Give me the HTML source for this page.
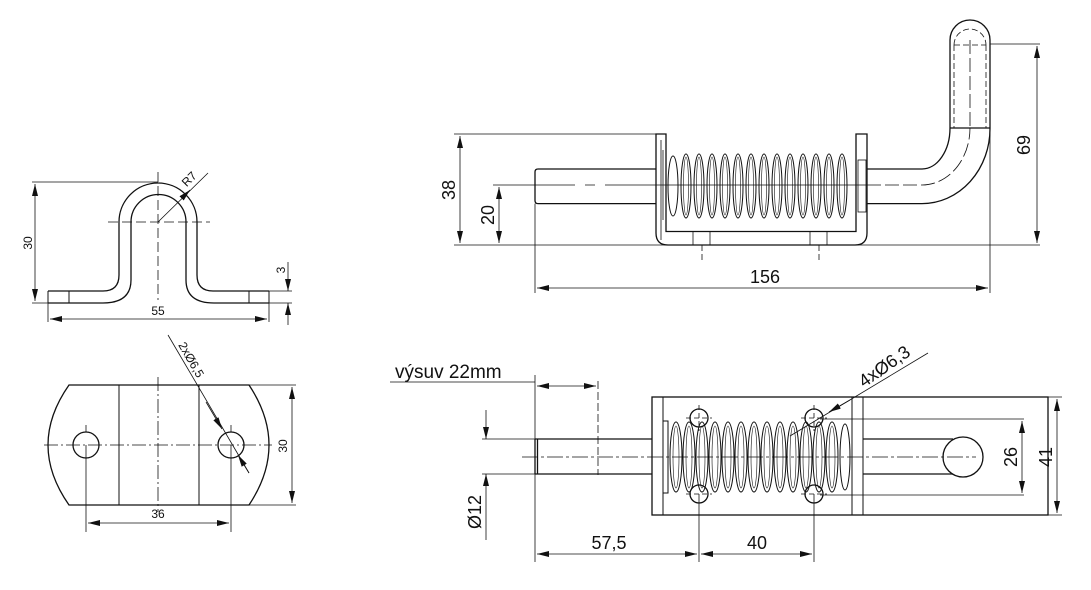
<!DOCTYPE html>
<html><head><meta charset="utf-8"><style>
html,body{margin:0;padding:0;background:#fff}
svg{display:block}
text{font-family:"Liberation Sans",sans-serif;fill:#111}
</style></head><body>
<svg width="1091" height="590" viewBox="0 0 1091 590" xmlns="http://www.w3.org/2000/svg">
<defs>
<marker id="a" viewBox="0 0 12 6" refX="12" refY="3" markerWidth="12" markerHeight="6" orient="auto-start-reverse" markerUnits="userSpaceOnUse"><path d="M0,0 L12,3 L0,6z" fill="#111"/></marker>
</defs>
<g fill="none" stroke="#111" stroke-width="1.3">
<!-- LEFT TOP VIEW -->
<path d="M48,291 L103,291 Q119,291 119,275 L119,222 A39 39 0 0 1 197,222 L197,275 Q197,291 213,291 L269,291"/>
<path d="M48,303 L103,303 Q131,303 131,280 L131,222 A27.5 27.5 0 0 1 186,222 L186,280 Q186,303 214,303 L269,303"/>
<path d="M48,291V303M269,291V303M69,291V303M249,291V303" stroke-width="1"/>
<g stroke-width="0.8">
<path d="M158,172V300M108,222H210" stroke-dasharray="10,4"/>
<path d="M158,222L208,173"/>
<path d="M183,197L190,190" marker-end="url(#a)"/>
<path d="M32,182H158M32,303H48M269,291H292M269,303H292M48,303V322M269,303V322"/>
<path d="M35,184V301" marker-start="url(#a)" marker-end="url(#a)"/>
<path d="M288,262V291" marker-end="url(#a)"/>
<path d="M288,325V303" marker-end="url(#a)"/>
<path d="M50,319H267" marker-start="url(#a)" marker-end="url(#a)"/>
</g>
<!-- LEFT BOTTOM VIEW -->
<path d="M69,385H249Q269,415 269,445Q269,475 249,505H69Q48,475 48,445Q48,415 69,385Z"/>
<path d="M119,385V505M199,385V505" stroke-width="1"/>
<circle cx="86" cy="445" r="13"/><circle cx="231" cy="445" r="13"/>
<g stroke-width="0.8">
<path d="M44,445H272M158,377V512" stroke-dasharray="14,3,2,3"/>
<path d="M86,425V432M231,425V432"/>
<path d="M249,385H296M249,505H296M86,445V532M231,445V532"/>
<path d="M292,387V503" marker-start="url(#a)" marker-end="url(#a)"/>
<path d="M88,523H229" marker-start="url(#a)" marker-end="url(#a)"/>
<path d="M168,335L249,473"/>
<path d="M206,402L222,429" marker-end="url(#a)"/>
<path d="M249,473L238,455" marker-end="url(#a)"/>
</g>

<!-- TOP RIGHT VIEW -->
<path d="M656,134V233Q656,245 668,245H855Q867,245 867,233V134H856V231.5H666V134Z"/>
<path d="M535,172Q535,169 538,169H656M535,172V200.6Q535,203.6 538,203.6H656"/>
<path d="M867,169H922A28 41 0 0 0 950,128V40A20 20 0 0 1 990,40V128A68 75 0 0 1 922,203.6H867"/>
<path d="M949.7,128H990"/>
<g stroke-width="0.8">
<path d="M954,45V128M986,45V128M954,45A16 16 0 0 1 986,45M954,45H986" stroke-dasharray="6,3"/>
<path d="M970,40V128" stroke-dasharray="14,4"/>
<path d="M867,185H922A48 57 0 0 0 970,128" stroke-dasharray="14,4"/>
<path d="M493,185H575M585,185H595M605,185H867" />
<path d="M661,140V240M663,150V220" />
<rect x="693" y="231.5" width="17" height="13.5"/><rect x="810" y="231.5" width="17" height="13.5"/>
<path d="M702,245V260M819,245V260" stroke-dasharray="6,3"/>
<rect x="858" y="160" width="8" height="52"/>
<path d="M454,245H1040M454,134H656M990,44H1040M535,203.6V293M990,128V293"/>
<path d="M460,136V243" marker-start="url(#a)" marker-end="url(#a)"/>
<path d="M499,187V243" marker-start="url(#a)" marker-end="url(#a)"/>
<path d="M1037,46V243" marker-start="url(#a)" marker-end="url(#a)"/>
<path d="M537,288H988" marker-start="url(#a)" marker-end="url(#a)"/>
</g>
<g stroke-width="1">
<ellipse cx="673" cy="186" rx="5" ry="30"/>
<ellipse cx="686" cy="186" rx="5" ry="32"/><ellipse cx="699" cy="186" rx="5" ry="32"/><ellipse cx="712" cy="186" rx="5" ry="32"/><ellipse cx="725" cy="186" rx="5" ry="32"/><ellipse cx="738" cy="186" rx="5" ry="32"/><ellipse cx="751" cy="186" rx="5" ry="32"/><ellipse cx="764" cy="186" rx="5" ry="32"/><ellipse cx="777" cy="186" rx="5" ry="32"/><ellipse cx="790" cy="186" rx="5" ry="32"/><ellipse cx="803" cy="186" rx="5" ry="32"/><ellipse cx="816" cy="186" rx="5" ry="32"/><ellipse cx="829" cy="186" rx="5" ry="32"/><ellipse cx="842" cy="186" rx="5" ry="32"/>
</g>
<g stroke-width="0.6">
<ellipse cx="686" cy="186" rx="2.5" ry="29"/><ellipse cx="699" cy="186" rx="2.5" ry="29"/><ellipse cx="712" cy="186" rx="2.5" ry="29"/><ellipse cx="725" cy="186" rx="2.5" ry="29"/><ellipse cx="738" cy="186" rx="2.5" ry="29"/><ellipse cx="751" cy="186" rx="2.5" ry="29"/><ellipse cx="764" cy="186" rx="2.5" ry="29"/><ellipse cx="777" cy="186" rx="2.5" ry="29"/><ellipse cx="790" cy="186" rx="2.5" ry="29"/><ellipse cx="803" cy="186" rx="2.5" ry="29"/><ellipse cx="816" cy="186" rx="2.5" ry="29"/><ellipse cx="829" cy="186" rx="2.5" ry="29"/><ellipse cx="842" cy="186" rx="2.5" ry="29"/>
</g>

<!-- BOTTOM RIGHT VIEW -->
<rect x="652" y="397" width="396" height="118"/>
<path d="M663,397V515M852,397V515M863,397V515" stroke-width="1"/>
<path d="M535,439H652M535,474H652M863,439H953M863,474H953M535,439V474M537.5,439V474"/>
<circle cx="963" cy="457" r="20"/>
<circle cx="699" cy="418" r="9"/><circle cx="814" cy="418" r="9"/><circle cx="699" cy="494" r="9"/><circle cx="814" cy="494" r="9"/>
<g stroke-width="0.8">
<path d="M522,457H976" stroke-dasharray="16,3,3,3"/>
<path d="M686,418H712M814,405V431M801,418H827M699,405V431M686,494H712M801,494H827" stroke-dasharray="5,3"/>
<path d="M598,381V475" stroke-dasharray="8,3"/>
<path d="M390,382H535M535,375V562M699,494V562M814,494V562M820,419H1024M820,495H1024M1048,397H1062M1048,515H1062M482,439H535M482,474H535"/>
<path d="M537,386H596" marker-start="url(#a)" marker-end="url(#a)"/>
<path d="M537,554H697" marker-start="url(#a)" marker-end="url(#a)"/>
<path d="M701,554H812" marker-start="url(#a)" marker-end="url(#a)"/>
<path d="M1022,421V493" marker-start="url(#a)" marker-end="url(#a)"/>
<path d="M1057,399V513" marker-start="url(#a)" marker-end="url(#a)"/>
<path d="M486,410V439" marker-end="url(#a)"/>
<path d="M486,540V474" marker-end="url(#a)"/>
<path d="M928,353L790,436"/>
<path d="M850,400L829,412" marker-end="url(#a)"/>
</g>
<g stroke-width="1">
<rect x="663" y="421" width="5" height="72"/>
<ellipse cx="676" cy="457" rx="6" ry="35"/><ellipse cx="689" cy="457" rx="6" ry="35"/><ellipse cx="702" cy="457" rx="6" ry="35"/><ellipse cx="715" cy="457" rx="6" ry="35"/><ellipse cx="728" cy="457" rx="6" ry="35"/><ellipse cx="741" cy="457" rx="6" ry="35"/><ellipse cx="754" cy="457" rx="6" ry="35"/><ellipse cx="767" cy="457" rx="6" ry="35"/><ellipse cx="780" cy="457" rx="6" ry="35"/><ellipse cx="793" cy="457" rx="6" ry="35"/><ellipse cx="806" cy="457" rx="6" ry="35"/><ellipse cx="819" cy="457" rx="6" ry="35"/><ellipse cx="832" cy="457" rx="6" ry="35"/><ellipse cx="845" cy="457" rx="5" ry="33"/>
</g>
<g stroke-width="0.6">
<ellipse cx="676" cy="457" rx="3" ry="31"/><ellipse cx="689" cy="457" rx="3" ry="31"/><ellipse cx="702" cy="457" rx="3" ry="31"/><ellipse cx="715" cy="457" rx="3" ry="31"/><ellipse cx="728" cy="457" rx="3" ry="31"/><ellipse cx="741" cy="457" rx="3" ry="31"/><ellipse cx="754" cy="457" rx="3" ry="31"/><ellipse cx="767" cy="457" rx="3" ry="31"/><ellipse cx="780" cy="457" rx="3" ry="31"/><ellipse cx="793" cy="457" rx="3" ry="31"/><ellipse cx="806" cy="457" rx="3" ry="31"/><ellipse cx="819" cy="457" rx="3" ry="31"/><ellipse cx="832" cy="457" rx="3" ry="31"/>
</g>
</g>

<!-- TEXT -->
<g font-size="12">
<text x="158" y="315" text-anchor="middle">55</text>
<text x="158" y="518" text-anchor="middle">36</text>
<text transform="translate(32,243) rotate(-90)" text-anchor="middle">30</text>
<text transform="translate(287,446) rotate(-90)" text-anchor="middle">30</text>
<text transform="translate(285,270) rotate(-90)" text-anchor="middle">3</text>
<text transform="translate(192,182) rotate(-45)" text-anchor="middle">R7</text>
<text transform="translate(178,345) rotate(60)">2xØ6,5</text>
</g>
<g font-size="18">
<text x="765" y="283" text-anchor="middle">156</text>
<text transform="translate(455,190) rotate(-90)" text-anchor="middle">38</text>
<text transform="translate(494,215) rotate(-90)" text-anchor="middle">20</text>
<text transform="translate(1030,145) rotate(-90)" text-anchor="middle">69</text>
<text x="395" y="378" font-size="19">výsuv 22mm</text>
<text x="609" y="549" text-anchor="middle">57,5</text>
<text x="757" y="549" text-anchor="middle">40</text>
<text transform="translate(1017,457) rotate(-90)" text-anchor="middle">26</text>
<text transform="translate(1052,457) rotate(-90)" text-anchor="middle">41</text>
<text transform="translate(481,512) rotate(-90)" text-anchor="middle">Ø12</text>
<text transform="translate(864,388) rotate(-35)">4xØ6,3</text>
</g>
</svg>
</body></html>
